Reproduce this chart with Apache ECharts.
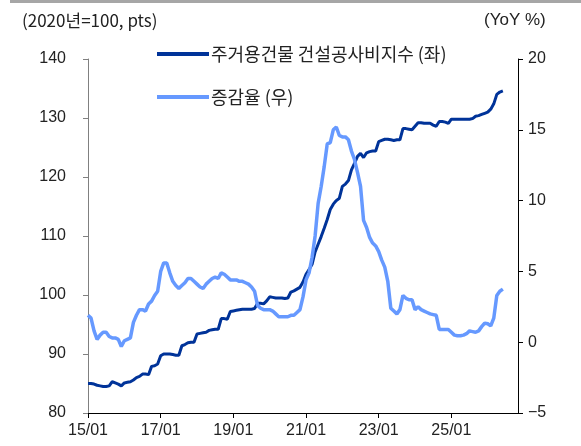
<!DOCTYPE html>
<html>
<head>
<meta charset="utf-8">
<script src="https://cdn.jsdelivr.net/npm/echarts@6/dist/echarts.min.js"></script>
<style>
  html, body { margin: 0; padding: 0; background: #fff; }
  #box { width: 581px; height: 446px; }
</style>
</head>
<body>
<div id="box"></div>
<script>
// 월별 카테고리 (15/01 ~ 26/11, 축 끝까지)
const months = []
for (let y = 15; y <= 26; y++) {
  for (let m = 1; m <= 12; m++) {
    if (y === 26 && m > 11) break
    months.push(y + '/' + String(m).padStart(2, '0'))
  }
}

const indexName = '주거용건물 건설공사비지수 (좌)'
const yoyName = '증감율 (우)'

// 주거용건물 건설공사비지수 (2020=100)
const indexValues = [
  85.0, 85.0, 84.9, 84.7, 84.6, 84.5, 84.5, 84.6, 85.3, 85.1, 84.9, 84.6,
  85.1, 85.2, 85.3, 85.6, 86.0, 86.2, 86.6, 86.6, 86.5, 87.9, 88.0, 88.3,
  89.7, 90.0, 90.0, 90.0, 89.9, 89.8, 89.8, 91.4, 91.6, 91.9, 92.0, 92.0,
  93.4, 93.5, 93.6, 93.7, 94.0, 94.1, 94.2, 94.2, 96.0, 96.0, 95.9, 97.2,
  97.3, 97.4, 97.5, 97.6, 97.6, 97.6, 97.6, 97.7, 98.6, 98.6, 98.5, 99.0,
  99.7, 99.6, 99.5, 99.5, 99.5, 99.4, 99.5, 100.5, 100.7, 101.0, 101.3, 102.2,
  103.5, 104.3, 105.2, 107.3, 108.6, 109.9, 111.3, 112.8, 114.5, 115.4, 116.0, 116.4,
  118.4, 118.8, 119.4, 121.2, 122.3, 123.5, 124.0, 123.3, 124.1, 124.3, 124.4, 124.4,
  126.0, 126.2, 126.4, 126.4, 126.3, 126.2, 126.3, 126.3, 128.2, 128.2, 128.1, 128.0,
  128.6, 129.2, 129.2, 129.1, 129.1, 129.1, 128.8, 128.6, 129.4, 129.4, 129.3, 129.1,
  129.8, 129.8, 129.8, 129.8, 129.8, 129.8, 129.8, 129.9, 130.3, 130.4, 130.6, 130.8,
  131.0, 131.5, 132.4, 134.0, 134.4, 134.6
]

// 증감율 (YoY %)
const yoyValues = [
  1.9, 1.7, 0.8, 0.2, 0.5, 0.7, 0.7, 0.4, 0.3, 0.3, 0.2, -0.3,
  0.1, 0.2, 0.3, 1.4, 1.9, 2.3, 2.3, 2.2, 2.7, 2.9, 3.3, 3.6,
  5.0, 5.6, 5.6, 4.9, 4.3, 4.0, 3.8, 4.0, 4.2, 4.5, 4.5, 4.3,
  4.1, 3.9, 3.8, 4.1, 4.3, 4.5, 4.6, 4.5, 4.9, 4.8, 4.6, 4.4,
  4.4, 4.4, 4.3, 4.3, 4.2, 4.1, 3.9, 3.6, 2.6, 2.4, 2.3, 2.3,
  2.3, 2.2, 2.0, 1.8, 1.8, 1.8, 1.8, 1.9, 1.9, 2.1, 2.3, 3.2,
  4.4, 4.9, 6.0, 7.5, 9.8, 11.0, 12.4, 14.0, 14.1, 15.0, 15.2, 14.6,
  14.5, 14.5, 14.3, 13.5, 12.9, 12.0, 11.0, 8.6, 8.1, 7.4, 7.0, 6.8,
  6.4, 5.8, 5.3, 4.3, 2.4, 2.2, 2.0, 2.3, 3.3, 3.1, 3.0, 3.0,
  2.3, 2.5, 2.3, 2.2, 2.1, 2.0, 1.95, 1.9, 0.9, 0.9, 0.9, 0.9,
  0.7, 0.5, 0.45, 0.45, 0.5, 0.6, 0.8, 0.75, 0.7, 0.8, 1.1, 1.35,
  1.3, 1.15, 1.7, 3.3, 3.6, 3.75
]

const font = "'Liberation Sans Narrow', 'Liberation Sans', Arial, sans-serif"
const mixFont = "'Liberation Sans Narrow', 'Noto Sans CJK KR', sans-serif"
const krFont = "'Noto Sans CJK KR', 'Liberation Sans', sans-serif"

const myChart = echarts.init(document.getElementById('box'))

const option = {
  animation: false,
  backgroundColor: '#fff',
  graphic: [
    { type: 'rect', shape: { x: 10, y: 0, width: 571, height: 3 }, style: { fill: '#a6a6a6' } },
    { type: 'text', left: 22, top: 12, style: { text: '(2020년=100, pts)', font: '17px ' + mixFont, fill: '#222' } },
    { type: 'text', left: 484, top: 12, style: { text: '(YoY %)', font: '17px ' + font, fill: '#222' } }
  ],
  legend: {
    orient: 'vertical',
    left: 152,
    top: 40,
    itemWidth: 52,
    itemHeight: 4,
    itemGap: 25,
    icon: 'rect',
    data: [indexName, yoyName],
    textStyle: { fontFamily: krFont, fontSize: 18, color: '#222', padding: [0, 0, 0, -3] }
  },
  grid: { left: 88, right: 63, top: 59, bottom: 33 },
  xAxis: {
    type: 'category',
    boundaryGap: false,
    data: months,
    axisLine: { onZero: false, lineStyle: { color: '#000', width: 1 } },
    axisTick: { length: 5, interval: (i) => i % 24 === 0, lineStyle: { color: '#000' } },
    axisLabel: {
      interval: (i) => i % 24 === 0,
      margin: 10,
      fontFamily: font,
      fontSize: 16,
      color: '#222'
    },
    splitLine: { show: false }
  },
  yAxis: [
    {
      type: 'value',
      min: 80,
      max: 140,
      interval: 10,
      axisLine: { show: true, lineStyle: { color: '#808080' } },
      axisTick: { show: true, length: 5, lineStyle: { color: '#808080' } },
      axisLabel: { margin: 22, fontFamily: font, fontSize: 16, color: '#222' },
      splitLine: { show: false }
    },
    {
      type: 'value',
      min: -5,
      max: 20,
      interval: 5,
      axisLine: { show: true, lineStyle: { color: '#000' } },
      axisTick: { show: true, length: 5, lineStyle: { color: '#000' } },
      axisLabel: {
        margin: 10,
        fontFamily: font,
        fontSize: 16,
        color: '#222',
        formatter: (v) => String(v).replace('-', '\u2212')
      },
      splitLine: { show: false }
    }
  ],
  series: [
    {
      name: indexName,
      type: 'line',
      yAxisIndex: 0,
      data: indexValues,
      showSymbol: false,
      symbol: 'none',
      lineStyle: { color: '#003399', width: 3 },
      itemStyle: { color: '#003399' },
      z: 2
    },
    {
      name: yoyName,
      type: 'line',
      yAxisIndex: 1,
      data: yoyValues,
      showSymbol: false,
      symbol: 'none',
      lineStyle: { color: '#6699ff', width: 3.5 },
      itemStyle: { color: '#6699ff' },
      z: 3
    }
  ]
}

myChart.setOption(option)
</script>
</body>
</html>
